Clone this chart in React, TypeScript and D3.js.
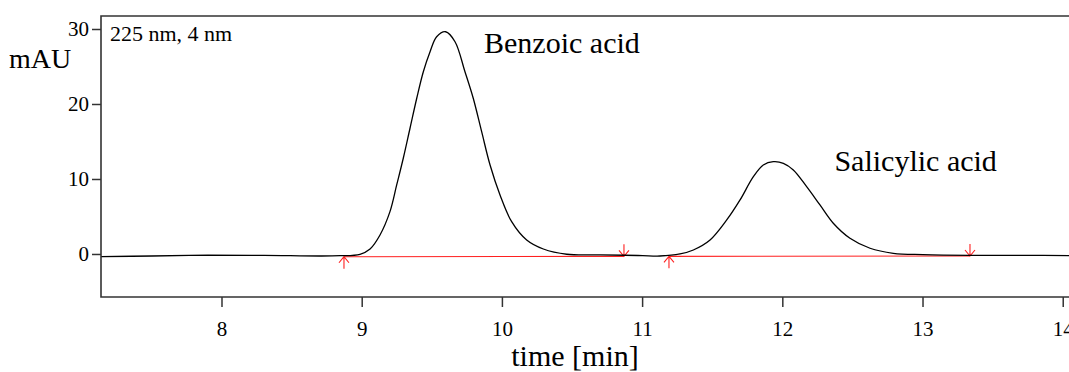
import * as d3 from 'd3'
import { useEffect, useRef } from 'react'

// chromatogram trace (time in min, absorbance in mAU)
const traceTime = [
    7.14, 7.5, 7.9, 8.3, 8.7, 8.842, 8.984, 9.056, 9.127, 9.198, 9.246, 9.293, 9.341, 9.389, 9.436, 9.484,
    9.531, 9.595, 9.662, 9.733, 9.792, 9.852, 9.912, 9.983, 10.066, 10.173, 10.292, 10.459, 10.7, 10.87,
    11.0, 11.124, 11.267, 11.362, 11.481, 11.6, 11.695, 11.79, 11.861, 11.932, 12.004, 12.075, 12.17,
    12.265, 12.36, 12.479, 12.622, 12.788, 13.0, 13.335, 13.7, 14.08,
]
const traceValue = [
    -0.29, -0.2, -0.1, -0.12, -0.2, -0.16, 0.03, 0.73, 2.6, 5.71, 9.27, 12.83, 16.83, 20.83, 24.37, 27.04,
    29.04, 29.7, 28.37, 24.37, 20.83, 16.37, 11.93, 7.93, 4.37, 1.93, 0.73, 0.03, -0.05, -0.1,
    -0.15, -0.2, 0.07, 0.6, 1.93, 4.6, 7.27, 10.37, 11.93, 12.37, 12.16, 11.27, 9.04,
    6.6, 4.16, 2.16, 0.83, 0.16, -0.02, -0.12, -0.12, -0.15,
]

// integration baselines: [start, end] time and value
const baselines = [
    { t0: 8.87, v0: -0.3, t1: 10.867, v1: -0.25 },
    { t0: 11.188, v0: -0.25, t1: 13.335, v1: -0.2 },
]

const xTicks = [8, 9, 10, 11, 12, 13, 14]
const yTicks = [0, 10, 20, 30]

const peakLabels = [
    { name: 'Benzoic acid', t: 9.869, v: 26.87 },
    { name: 'Salicylic acid', t: 12.368, v: 11.13 },
]

const FONT = '"Liberation Serif", "Times New Roman", serif'

const drawChart = (el: SVGSVGElement) => {
    const svg = d3.select(el)
    svg.selectAll('*').remove()

    const left = 101, top = 16, right = 1075, bottom = 297
    const x = d3.scaleLinear().domain([7.137, 14.084]).range([left, right])
    const y = d3.scaleLinear().domain([-5.67, 31.8]).range([bottom, top])

    // frame
    svg.append('path')
        .attr('d', `M${right},${top}H${left}V${bottom}H${right}`)
        .attr('fill', 'none')
        .attr('stroke', '#333')
        .attr('stroke-width', 1.6)

    // y ticks
    yTicks.forEach(v => {
        svg.append('line')
            .attr('x1', left - 9).attr('x2', left)
            .attr('y1', y(v)).attr('y2', y(v))
            .attr('stroke', '#333').attr('stroke-width', 1.5)
        svg.append('text')
            .attr('x', left - 12).attr('y', y(v) + 7)
            .attr('text-anchor', 'end')
            .attr('font-family', FONT).attr('font-size', 21)
            .text(v)
    })

    // x ticks
    xTicks.forEach(t => {
        svg.append('line')
            .attr('x1', x(t)).attr('x2', x(t))
            .attr('y1', bottom).attr('y2', bottom + 10)
            .attr('stroke', '#333').attr('stroke-width', 1.5)
        svg.append('text')
            .attr('x', x(t)).attr('y', bottom + 39)
            .attr('text-anchor', 'middle')
            .attr('font-family', FONT).attr('font-size', 21)
            .text(t)
    })

    svg.append('text')
        .attr('x', 9).attr('y', 68)
        .attr('font-family', FONT).attr('font-size', 28)
        .text('mAU')

    svg.append('text')
        .attr('x', 575).attr('y', 366)
        .attr('text-anchor', 'middle')
        .attr('font-family', FONT).attr('font-size', 30)
        .text('time [min]')

    svg.append('text')
        .attr('x', 110).attr('y', 41)
        .attr('font-family', FONT).attr('font-size', 22)
        .text('225 nm, 4 nm')

    // integration baselines and markers
    baselines.forEach(b => {
        svg.append('line')
            .attr('x1', x(b.t0)).attr('y1', y(b.v0))
            .attr('x2', x(b.t1)).attr('y2', y(b.v1))
            .attr('stroke', '#ff2020').attr('stroke-width', 1.1)

        const ux = x(b.t0), uy = y(b.v0)
        svg.append('path')
            .attr('d', `M${ux},${uy + 12}V${uy}M${ux - 5},${uy + 6}L${ux},${uy}L${ux + 5},${uy + 6}`)
            .attr('fill', 'none').attr('stroke', '#ff2020').attr('stroke-width', 1.1)

        const dx = x(b.t1), dy = y(b.v1)
        svg.append('path')
            .attr('d', `M${dx},${dy - 12}V${dy}M${dx - 5},${dy - 6}L${dx},${dy}L${dx + 5},${dy - 6}`)
            .attr('fill', 'none').attr('stroke', '#ff2020').attr('stroke-width', 1.1)
    })

    // trace
    const pts = traceTime.map((t, i) => [t, traceValue[i]] as [number, number])
    const line = d3.line<[number, number]>()
        .x(d => x(d[0]))
        .y(d => y(d[1]))
        .curve(d3.curveCatmullRom.alpha(0.5))

    svg.append('path')
        .datum(pts)
        .attr('d', line)
        .attr('fill', 'none')
        .attr('stroke', '#000')
        .attr('stroke-width', 1.3)

    peakLabels.forEach(p => {
        svg.append('text')
            .attr('x', x(p.t)).attr('y', y(p.v))
            .attr('font-family', FONT).attr('font-size', 30)
            .text(p.name)
    })
}

const App = () => {
    const ref = useRef<SVGSVGElement>(null)

    useEffect(() => {
        if (ref.current) drawChart(ref.current)
    }, [])

    return (
        <div style={{ position: 'absolute', left: 0, top: 0 }}>
            <svg ref={ref} width={1069} height={372} style={{ display: 'block', background: '#fff' }} />
        </div>
    )
}

export default App
